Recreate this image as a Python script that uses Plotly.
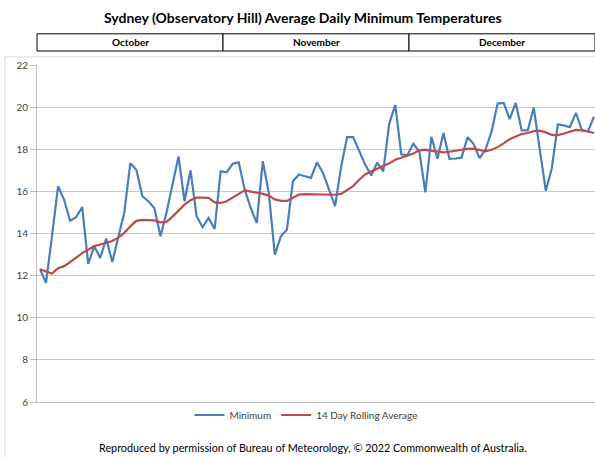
import plotly.graph_objects as go

# Day index (0 = 1 October)
days = list(range(93))

minimum = [12.3, 11.66, 13.9, 16.24, 15.6, 14.6, 14.77, 15.26, 12.56, 13.4,
           12.84, 13.76, 12.65, 13.87, 15.0, 17.34, 17.03, 15.77, 15.53, 15.2,
           13.87, 14.98, 16.4, 17.66, 15.53, 17.0, 14.82, 14.3, 14.74, 14.22,
           16.95, 16.9, 17.31, 17.38, 16.08, 15.2, 14.5, 17.43, 15.92, 13.0,
           13.87, 14.18, 16.48, 16.8, 16.72, 16.64, 17.38, 16.87, 16.08, 15.3,
           17.15, 18.58, 18.58, 17.95, 17.27, 16.75, 17.36, 16.95, 19.22, 20.1,
           17.76, 17.72, 18.26, 17.88, 15.95, 18.59, 17.55, 18.77, 17.54, 17.56,
           17.6, 18.57, 18.26, 17.58, 18.0, 18.85, 20.17, 20.2, 19.43, 20.2,
           18.9, 18.9, 19.97, 17.98, 16.03, 17.1, 19.18, 19.13, 19.05, 19.73,
           18.91, 18.85, 19.55]

rolling_avg = [12.3, 12.2, 12.1, 12.35, 12.45, 12.64, 12.85, 13.07, 13.23, 13.4,
               13.48, 13.55, 13.64, 13.8, 14.03, 14.34, 14.6, 14.65, 14.65, 14.62,
               14.53, 14.55, 14.8, 15.1, 15.37, 15.58, 15.7, 15.7, 15.69, 15.48,
               15.45, 15.53, 15.72, 15.88, 16.05, 16.0, 15.92, 15.88, 15.8, 15.62,
               15.55, 15.55, 15.7, 15.85, 15.87, 15.87, 15.87, 15.86, 15.84, 15.84,
               15.88, 16.05, 16.25, 16.55, 16.8, 16.95, 17.07, 17.2, 17.33, 17.5,
               17.6, 17.67, 17.8, 17.95, 17.98, 17.92, 17.87, 17.85, 17.88, 17.93,
               17.97, 18.02, 18.03, 17.95, 17.9, 17.98, 18.1, 18.28, 18.48, 18.6,
               18.72, 18.77, 18.86, 18.88, 18.8, 18.68, 18.67, 18.75, 18.83, 18.92,
               18.9, 18.82, 18.77]

months = ["October", "November", "December"]
y_ticks = [6, 8, 10, 12, 14, 16, 18, 20, 22]

FONT = "Lato, 'Open Sans', sans-serif"

fig = go.Figure()
fig.add_trace(go.Scatter(x=days, y=minimum, mode="lines", name="Minimum",
                         line=dict(color="#4a7ebb", width=2.2)))
fig.add_trace(go.Scatter(x=days, y=rolling_avg, mode="lines", name="14 Day Rolling Average",
                         line=dict(color="#be4b48", width=2.2)))

shapes = []
# Outer chart-area border (left and top)
shapes.append(dict(type="line", xref="paper", yref="paper", x0=-0.0573, x1=1.1,
                   y0=1.024, y1=1.024, line=dict(color="#d9d9d9", width=1)))
shapes.append(dict(type="line", xref="paper", yref="paper", x0=-0.0573, x1=-0.0573,
                   y0=1.024, y1=-0.2, line=dict(color="#d9d9d9", width=1)))
# Month header boxes
annotations = []
for k, m in enumerate(months):
    x0 = k / 3
    x1 = (k + 1) / 3
    shapes.append(dict(type="rect", xref="paper", yref="paper", x0=x0, x1=x1,
                       y0=1.0415, y1=1.0925, line=dict(color="#000000", width=1),
                       fillcolor="white"))
    annotations.append(dict(text=m, xref="paper", yref="paper", x=(x0 + x1) / 2,
                            y=1.067, showarrow=False, xanchor="center", yanchor="middle",
                            font=dict(family=FONT, size=10, color="#000000", weight="bold")))

annotations.append(dict(text="Sydney (Observatory Hill) Average Daily Minimum Temperatures",
                        xref="paper", yref="paper", x=(303 - 37) / 558, y=(402 - 18) / 337,
                        showarrow=False, xanchor="center", yanchor="middle",
                        font=dict(family=FONT, size=14, color="#000000", weight="bold")))
annotations.append(dict(text="Reproduced by permission of Bureau of Meteorology, © 2022 Commonwealth of Australia.",
                        xref="paper", yref="paper", x=(313 - 37) / 558, y=(402 - 447) / 337,
                        showarrow=False, xanchor="center", yanchor="middle",
                        font=dict(family=FONT, size=10.8, color="#000000")))

fig.update_layout(
    width=595, height=457,
    margin=dict(l=37, r=0, t=65, b=55, pad=0),
    paper_bgcolor="white", plot_bgcolor="white",
    showlegend=True,
    legend=dict(orientation="h", x=(306 - 37) / 558, xanchor="center",
                y=(402 - 415) / 337, yanchor="middle",
                font=dict(family=FONT, size=10, color="#404040"),
                bgcolor="rgba(0,0,0,0)", itemwidth=30, tracegroupgap=0),
    shapes=shapes,
    annotations=annotations,
    font=dict(family=FONT),
)
fig.update_xaxes(range=[-0.5, 92.17], showticklabels=False, showgrid=False,
                 zeroline=False, showline=True, linecolor="#bfbfbf", linewidth=1,
                 ticks="", fixedrange=True)
fig.update_yaxes(range=[6, 22], tickvals=y_ticks, ticktext=[str(v) for v in y_ticks],
                 showgrid=True, gridcolor="#c8c8c8", gridwidth=1, zeroline=False,
                 showline=True, linecolor="#bfbfbf", linewidth=1,
                 ticks="outside", ticklen=6, tickcolor="#bfbfbf",
                 tickfont=dict(family=FONT, size=10, color="#404040"))

fig.write_html("out.html", config={"displayModeBar": False},
               post_script="document.body.style.margin='0px';document.body.style.overflow='hidden';")
